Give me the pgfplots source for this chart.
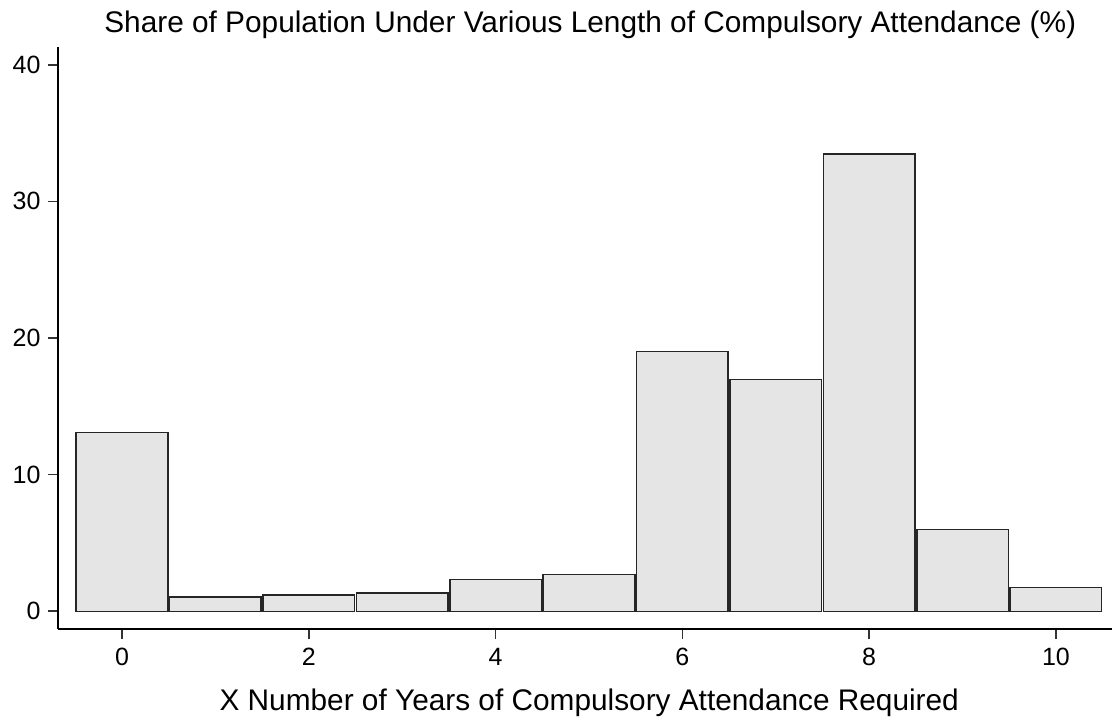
\documentclass[border=0pt]{standalone}
\usepackage{fontspec}
\setmainfont{Liberation Sans}
\usepackage{pgfplots}
\pgfplotsset{compat=1.18}
\definecolor{barfill}{HTML}{E5E5E5}
\definecolor{barline}{HTML}{262626}
\begin{document}
\begin{tikzpicture}
\begin{axis}[
  name=ax,
  scale only axis,
  width=526.75pt, height=291pt,
  xmin=-0.68, xmax=10.6,
  ymin=-1.3, ymax=41.3,
  axis lines=left,
  axis line style={line width=1pt, black, -},
  xtick={0,2,4,6,8,10},
  ytick={0,10,20,30,40},
  tick align=outside,
  tick style={line width=0.8pt, black!80},
  major tick length=5pt,
  /pgf/number format/assume math mode=true,
  ticklabel style={font=\fontsize{12.5}{14}\selectfont},
  xticklabel style={yshift=-1pt},
  yticklabel style={xshift=-0.5pt},
  title={Share of Population Under Various Length of Compulsory Attendance (\%)},
  title style={font=\fontsize{14.9}{17}\selectfont, at={(0.5,1)}, anchor=base, yshift=1pt, xshift=2.5pt},
  xlabel={X Number of Years of Compulsory Attendance Required},
  xlabel style={font=\fontsize{14.9}{17}\selectfont, yshift=-4.5pt, xshift=2pt},
  ybar, bar width=0.98, bar shift=0pt,
  clip=false,
]
\addplot[fill=barfill, draw=barline, line width=0.75pt] coordinates {
(0,13.1) (1,1.05) (2,1.19) (3,1.34) (4,2.34) (5,2.69)
(6,19.0) (7,16.97) (8,33.48) (9,5.98) (10,1.74)
};
\end{axis}
\pgfresetboundingbox
\path ([xshift=-29.25pt,yshift=-45pt]ax.south west) rectangle ([yshift=23.5pt]ax.north east);
\end{tikzpicture}
\end{document}
